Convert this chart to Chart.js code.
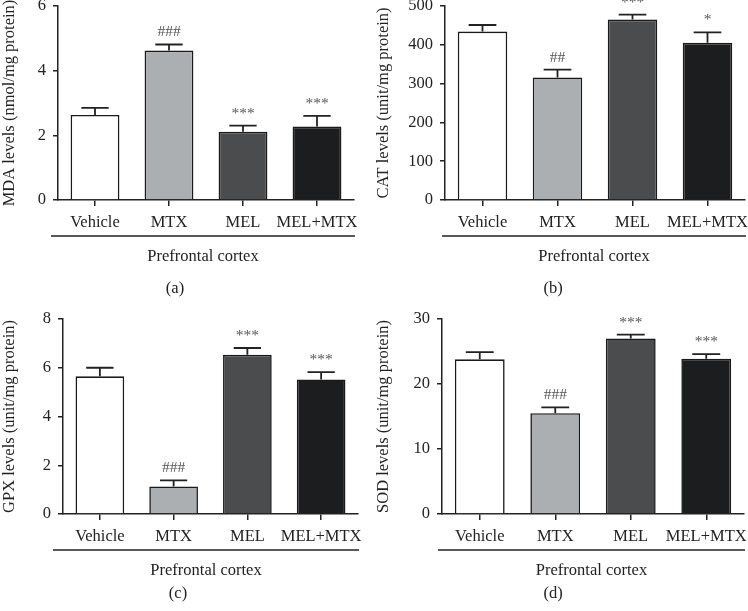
<!DOCTYPE html>
<html>
<head>
<meta charset="utf-8">
<script src="https://cdn.jsdelivr.net/npm/chart.js@4.4.0/dist/chart.umd.min.js"></script>
<style>
    html, body { margin: 0; padding: 0; background: #fff; }
    #wrap { position: relative; width: 748px; height: 611px; }
    canvas { position: absolute; }
</style>
</head>
<body>
<div id="wrap">
    <canvas id="chartA" width="374" height="300" style="left:0;top:0"></canvas>
    <canvas id="chartB" width="374" height="300" style="left:374px;top:0"></canvas>
    <canvas id="chartC" width="374" height="311" style="left:0;top:300px"></canvas>
    <canvas id="chartD" width="374" height="311" style="left:374px;top:300px"></canvas>
</div>
<script>
    // Data
    const groups = ['Vehicle', 'MTX', 'MEL', 'MEL+MTX'];
    const regionLabel = 'Prefrontal cortex';

    const mdaValues = [2.63, 4.62, 2.11, 2.27];
    const mdaErrors = [0.22, 0.19, 0.19, 0.33];
    const mdaMarks = ['', '###', '***', '***'];
    const mdaTicks = [0, 2, 4, 6];

    const catValues = [434, 316, 465, 405];
    const catErrors = [17, 20, 13, 27];
    const catMarks = ['', '##', '***', '*'];
    const catTicks = [0, 100, 200, 300, 400, 500];

    const gpxValues = [5.65, 1.13, 6.53, 5.52];
    const gpxErrors = [0.35, 0.25, 0.28, 0.30];
    const gpxMarks = ['', '###', '***', '***'];
    const gpxTicks = [0, 2, 4, 6, 8];

    const sodValues = [23.8, 15.5, 27.0, 23.9];
    const sodErrors = [1.1, 0.9, 0.6, 0.7];
    const sodMarks = ['', '###', '***', '***'];
    const sodTicks = [0, 10, 20, 30];

    const serif = '"Liberation Serif", "Times New Roman", serif';
    const ink = '#222';
    const barColors = ['#ffffff', '#acafb2', '#4b4c4e', '#1c1d1f'];

    // error bars, significance marks and the region caption
    const errorBarPlugin = {
        id: 'errorBars',
        afterDatasetsDraw(chart, args, opts) {
            const ctx = chart.ctx;
            const yScale = chart.scales.y;
            const meta = chart.getDatasetMeta(0);
            const values = chart.data.datasets[0].data;
            ctx.save();
            ctx.strokeStyle = ink;
            ctx.lineWidth = 1.8;
            meta.data.forEach((bar, i) => {
                const top = yScale.getPixelForValue(values[i] + opts.errors[i]);
                const half = bar.width * 0.28;
                ctx.beginPath();
                ctx.moveTo(bar.x, bar.y);
                ctx.lineTo(bar.x, top);
                ctx.moveTo(bar.x - half, top);
                ctx.lineTo(bar.x + half, top);
                ctx.stroke();
                if (opts.marks[i]) {
                    ctx.fillStyle = '#555';
                    ctx.font = '15.5px ' + serif;
                    ctx.textAlign = 'center';
                    ctx.textBaseline = 'alphabetic';
                    ctx.fillText(opts.marks[i], bar.x, top - 8);
                }
            });
            ctx.restore();
        },
        afterDraw(chart, args, opts) {
            const ctx = chart.ctx;
            const area = chart.chartArea;
            const left = area.left - opts.sepIndent;
            const right = area.right + 1;
            const lineY = area.bottom + 36;
            ctx.save();
            ctx.strokeStyle = ink;
            ctx.lineWidth = 1.5;
            ctx.beginPath();
            ctx.moveTo(left, lineY);
            ctx.lineTo(right, lineY);
            ctx.stroke();
            ctx.fillStyle = ink;
            ctx.font = '16.5px ' + serif;
            ctx.textAlign = 'center';
            ctx.textBaseline = 'alphabetic';
            ctx.fillText(regionLabel, (left + right) / 2, area.bottom + 61);
            ctx.fillText(opts.letter, opts.letterX, opts.letterY);
            ctx.restore();
        }
    };

    function createPanel(id, values, errors, marks, yTicks, yTitle, letter, box) {
        const canvas = document.getElementById(id);
        const W = canvas.width, H = canvas.height;
        return new Chart(canvas.getContext('2d'), {
            type: 'bar',
            data: {
                labels: groups,
                datasets: [{
                    data: values,
                    backgroundColor: barColors,
                    borderColor: '#1a1a1a',
                    borderWidth: 1.6,
                    categoryPercentage: 1,
                    barPercentage: 0.66
                }]
            },
            options: {
                responsive: false,
                animation: false,
                layout: {
                    padding: { left: 0, top: box.top, right: W - box.right, bottom: 0 }
                },
                scales: {
                    y: {
                        min: 0,
                        max: yTicks[yTicks.length - 1],
                        ticks: {
                            stepSize: yTicks[1] - yTicks[0],
                            color: ink,
                            padding: 7,
                            font: { family: serif, size: 16.5 }
                        },
                        grid: {
                            drawOnChartArea: false,
                            tickLength: 5,
                            color: ink,
                            lineWidth: 1.5
                        },
                        border: { color: ink, width: 1.5 },
                        title: {
                            display: true,
                            text: yTitle,
                            color: ink,
                            font: { family: serif, size: 16.5 },
                            padding: { top: 0, bottom: 0 }
                        },
                        afterFit: function (s) {
                            s.width = box.left;
                            s.paddingTop = 0;
                            s.paddingBottom = 0;
                        }
                    },
                    x: {
                        ticks: {
                            color: ink,
                            padding: 7,
                            maxRotation: 0,
                            autoSkip: false,
                            font: { family: serif, size: 16.5 }
                        },
                        grid: {
                            offset: false,
                            drawOnChartArea: false,
                            tickLength: 6,
                            color: ink,
                            lineWidth: 1.5
                        },
                        border: { color: ink, width: 1.5 },
                        afterFit: function (s) {
                            s.height = H - box.bottom;
                            s.paddingLeft = 0;
                            s.paddingRight = 0;
                        }
                    }
                },
                plugins: {
                    legend: { display: false },
                    tooltip: { enabled: false },
                    errorBars: {
                        errors: errors,
                        marks: marks,
                        letter: letter,
                        letterX: box.letterX,
                        letterY: box.letterY,
                        sepIndent: box.sepIndent
                    }
                }
            },
            plugins: [errorBarPlugin]
        });
    }

    createPanel('chartA', mdaValues, mdaErrors, mdaMarks, mdaTicks, 'MDA levels (nmol/mg protein)', '(a)',
        { left: 58, top: 6, right: 354, bottom: 200, sepIndent: 7, letterX: 175, letterY: 293 });
    createPanel('chartB', catValues, catErrors, catMarks, catTicks, 'CAT levels (unit/mg protein)', '(b)',
        { left: 71, top: 6, right: 371, bottom: 200, sepIndent: 3, letterX: 179, letterY: 293 });
    createPanel('chartC', gpxValues, gpxErrors, gpxMarks, gpxTicks, 'GPX levels (unit/mg protein)', '(c)',
        { left: 63, top: 19, right: 358, bottom: 214, sepIndent: 10, letterX: 178, letterY: 298 });
    createPanel('chartD', sodValues, sodErrors, sodMarks, sodTicks, 'SOD levels (unit/mg protein)', '(d)',
        { left: 68, top: 19, right: 370, bottom: 214, sepIndent: 4, letterX: 179, letterY: 298 });
</script>
</body>
</html>
